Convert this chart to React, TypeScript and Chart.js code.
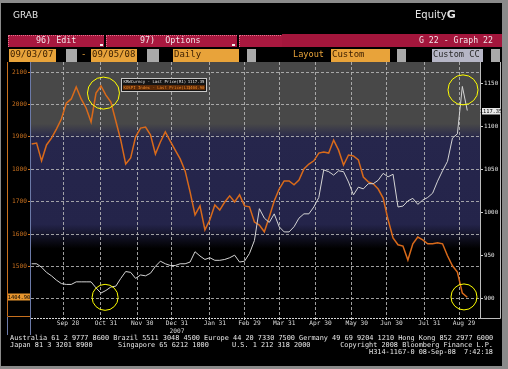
import React, { useEffect, useRef } from "react";
import { Chart, registerables } from "chart.js";

Chart.register(...registerables);

// ---------- data ----------
// one sample every 3 trading days, 03-Sep-2007 (day 0) .. 05-Sep-2008 (day 264)
const tradingDayStep = 3;
const xMinDay = -0.4;
const xMaxDay = 271.7;

// KOSPI Index - Last Price (left axis, orange)
const kospiValues = [
  1878, 1881, 1826, 1875, 1896, 1924, 1955, 2004, 2017, 2054,
  2017, 1989, 1946, 2035, 2057, 2029, 2007, 1949, 1890, 1816,
  1835, 1900, 1927, 1930, 1906, 1847, 1884, 1915, 1887, 1859,
  1832, 1795, 1730, 1659, 1687, 1613, 1644, 1690, 1674, 1699,
  1718, 1699, 1721, 1687, 1684, 1637, 1628, 1607, 1653, 1702,
  1739, 1764, 1764, 1752, 1767, 1801, 1816, 1826, 1850, 1853,
  1850, 1890, 1859, 1813, 1844, 1841, 1829, 1776, 1761, 1755,
  1739, 1711, 1644, 1588, 1567, 1563, 1520, 1570, 1591, 1582,
  1570, 1570, 1573, 1570, 1533, 1502, 1483, 1418, 1405,
];

// KRW Curncy - Last Price (right axis, white)
const krwValues = [
  940, 940, 936, 930, 926, 921, 917, 916, 916, 919,
  919, 919, 919, 912, 906, 909, 913, 914, 923, 931,
  930, 923, 927, 926, 929, 937, 943, 940, 938, 938,
  940, 940, 942, 954, 949, 945, 947, 944, 944, 945,
  947, 950, 942, 943, 952, 967, 1004, 993, 988, 998,
  983, 977, 977, 983, 993, 998, 998, 1006, 1017, 1049,
  1047, 1043, 1048, 1047, 1035, 1020, 1029, 1027, 1033, 1033,
  1037, 1045, 1041, 1044, 1006, 1007, 1013, 1016, 1009, 1014,
  1017, 1022, 1036, 1048, 1059, 1086, 1091, 1146, 1118,
];

// month-end ticks (trading-day index) and their labels
const monthTickDays = [19, 42, 64, 85, 108, 129, 150, 172, 194, 215, 238, 259];
const monthTickLabels: (string | string[])[] = [
  "Sep 28", "Oct 31", "Nov 30", ["Dec 31", "2007"], "Jan 31", "Feb 29",
  "Mar 31", "Apr 30", "May 30", "Jun 30", "Jul 31", "Aug 29",
];

const leftTicks = [1400, 1500, 1600, 1700, 1800, 1900, 2000, 2100];
const rightTicks = [900, 950, 1000, 1050, 1100, 1150];
const leftMin = 1341;
const leftMax = 2131;
const rightMin = 877;
const rightMax = 1174.4;

const krwLastText = "1117.35";
const kospiLastText = "1404.90";
const krwLegend = "KRWCurncy - Last Price(R1)";
const kospiLegend = "KOSPI Index - Last Price(L1)";

// highlighted spots (trading-day index, axis value)
const circleMarks = [
  { axis: "yL", day: 43.5, value: 2035, r: 16 },
  { axis: "yR", day: 44.5, value: 901, r: 13 },
  { axis: "yR", day: 261.4, value: 1142, r: 15 },
  { axis: "yL", day: 262, value: 1406, r: 13 },
];

// background bands, by left-axis value
const bandStops = [
  { v: 2131, c: "#484848" },
  { v: 1940, c: "#484848" },
  { v: 1895, c: "#26264c" },
  { v: 1630, c: "#24244a" },
  { v: 1555, c: "#000000" },
  { v: 1341, c: "#000000" },
];

const MONO = "'DejaVu Sans Mono', monospace";
const ORANGE = "#d96a1a";
const AXIS_ORANGE = "#c8701e";
const GRID = "rgba(185,185,185,0.85)";

const bandsPlugin = {
  id: "bands",
  beforeDraw(chart: any) {
    const { ctx, chartArea: a, scales } = chart;
    const yL = scales.yL;
    ctx.save();
    const g = ctx.createLinearGradient(0, a.top, 0, a.bottom);
    bandStops.forEach((s) => {
      let p = (yL.getPixelForValue(s.v) - a.top) / (a.bottom - a.top);
      p = Math.min(1, Math.max(0, p));
      g.addColorStop(p, s.c);
    });
    ctx.fillStyle = g;
    ctx.fillRect(a.left, a.top, a.right - a.left, a.bottom - a.top);
    ctx.restore();
  },
};

const overlayPlugin = {
  id: "overlay",
  afterDraw(chart: any) {
    const { ctx, chartArea: a, scales } = chart;
    const yL = scales.yL;
    const yR = scales.yR;
    const x = scales.x;
    ctx.save();
    ctx.lineWidth = 1;

    // x axis line (dotted)
    ctx.strokeStyle = "#d6d6d6";
    ctx.setLineDash([2, 1]);
    ctx.beginPath();
    ctx.moveTo(a.left, a.bottom + 0.5);
    ctx.lineTo(a.right, a.bottom + 0.5);
    ctx.stroke();
    ctx.setLineDash([]);

    // right axis line and right frame
    ctx.strokeStyle = "#bdbdbd";
    ctx.beginPath();
    ctx.moveTo(a.right + 0.5, a.top);
    ctx.lineTo(a.right + 0.5, a.bottom + 1);
    ctx.moveTo(a.right + 20.5, a.top);
    ctx.lineTo(a.right + 20.5, a.bottom + 0.5);
    ctx.lineTo(a.right, a.bottom + 0.5);
    ctx.stroke();

    // left blue-grey lines
    ctx.strokeStyle = "#6c7aa8";
    ctx.beginPath();
    ctx.moveTo(a.left - 0.5, a.top);
    ctx.lineTo(a.left - 0.5, a.bottom + 17);
    ctx.moveTo(7.5, a.bottom - 1);
    ctx.lineTo(7.5, a.bottom + 17);
    ctx.stroke();

    // orange bracket of the left axis
    ctx.strokeStyle = AXIS_ORANGE;
    ctx.beginPath();
    ctx.moveTo(7.5, a.top);
    ctx.lineTo(7.5, a.bottom - 1.5);
    ctx.lineTo(a.left - 1, a.bottom - 1.5);
    ctx.stroke();

    // last-value boxes
    ctx.textBaseline = "middle";
    ctx.textAlign = "center";
    ctx.font = `5.4px ${MONO}`;
    const yk = yL.getPixelForValue(parseFloat(kospiLastText));
    ctx.fillStyle = "#e8962e";
    ctx.fillRect(8, Math.round(yk) - 3.5, 22, 7);
    ctx.fillStyle = "#000";
    ctx.fillText(kospiLastText, 19, yk);

    const yw = yR.getPixelForValue(parseFloat(krwLastText));
    ctx.fillStyle = "#e8e8e8";
    ctx.fillRect(a.right + 2, Math.round(yw) - 3, 18, 6.5);
    ctx.fillStyle = "#000";
    ctx.fillText(krwLastText, a.right + 11, yw + 0.3);

    // legend box
    const lx = a.left + 90.5;
    const ly = a.top + 16.5;
    ctx.fillStyle = "#151515";
    ctx.fillRect(lx, ly, 85, 13);
    ctx.strokeStyle = "#c8c8c8";
    ctx.strokeRect(lx, ly, 85, 13);
    ctx.font = `4px ${MONO}`;
    ctx.textAlign = "left";
    ctx.fillStyle = "#e6e6e6";
    ctx.fillText(krwLegend, lx + 2, ly + 3.8);
    ctx.textAlign = "right";
    ctx.fillText(krwLastText, lx + 83, ly + 3.8);
    ctx.fillStyle = "#5a2a08";
    ctx.fillRect(lx + 1.5, ly + 6.5, 82, 5);
    ctx.fillStyle = "#f08a2a";
    ctx.textAlign = "left";
    ctx.fillText(kospiLegend, lx + 2, ly + 9.2);
    ctx.textAlign = "right";
    ctx.fillText(kospiLastText, lx + 83, ly + 9.2);

    // yellow circles
    ctx.strokeStyle = "#ffff00";
    ctx.lineWidth = 1;
    circleMarks.forEach((m) => {
      const cx = x.getPixelForValue(m.day);
      const cy = scales[m.axis].getPixelForValue(m.value);
      ctx.beginPath();
      ctx.arc(cx, cy, m.r, 0, Math.PI * 2);
      ctx.stroke();
    });

    ctx.restore();
  },
};

const box = (
  left: number,
  top: number,
  width: number,
  height: number,
  bg: string,
  extra: React.CSSProperties = {}
): React.CSSProperties => ({
  position: "absolute",
  left,
  top,
  width,
  height,
  background: bg,
  boxSizing: "border-box",
  ...extra,
});

const txt = (
  left: number,
  top: number,
  size: number,
  color: string,
  extra: React.CSSProperties = {}
): React.CSSProperties => ({
  position: "absolute",
  left,
  top,
  fontFamily: MONO,
  fontSize: size,
  lineHeight: `${Math.round(size + 2)}px`,
  color,
  whiteSpace: "pre",
  ...extra,
});

export default function App() {
  const ref = useRef<HTMLCanvasElement | null>(null);

  useEffect(() => {
    document.body.style.margin = "0";
    const canvas = ref.current;
    if (!canvas) return;
    const tickFont = { family: MONO, size: 6.2, lineHeight: 1.25 };
    const chart = new Chart(canvas, {
      type: "line",
      data: {
        datasets: [
          {
            label: "KRW Curncy",
            data: krwValues.map((v, i) => ({ x: i * tradingDayStep, y: v })),
            yAxisID: "yR",
            borderColor: "#d4d4d4",
            borderWidth: 1,
            pointRadius: 0,
            tension: 0,
          },
          {
            label: "KOSPI Index",
            data: kospiValues.map((v, i) => ({ x: i * tradingDayStep, y: v })),
            yAxisID: "yL",
            borderColor: ORANGE,
            borderWidth: 1.5,
            pointRadius: 0,
            tension: 0,
          },
        ],
      },
      options: {
        animation: false,
        responsive: false,
        devicePixelRatio: 1,
        events: [],
        layout: { padding: { top: 62, left: 0, right: 0, bottom: 0 } },
        plugins: { legend: { display: false }, tooltip: { enabled: false } },
        scales: {
          x: {
            type: "linear",
            min: xMinDay,
            max: xMaxDay,
            afterBuildTicks: (s: any) => {
              s.ticks = monthTickDays.map((v) => ({ value: v }));
            },
            afterFit: (s: any) => {
              s.height = 51;
            },
            ticks: {
              autoSkip: false,
              maxRotation: 0,
              padding: 0,
              labelOffset: 5,
              color: "#dcdcdc",
              font: tickFont,
              callback: (v: any) => {
                const k = monthTickDays.indexOf(Number(v));
                return k >= 0 ? monthTickLabels[k] : "";
              },
            },
            grid: { color: GRID, tickLength: 2, tickColor: "#cfcfcf" },
            border: { display: false, dash: [3, 2] },
          },
          yL: {
            position: "left",
            min: leftMin,
            max: leftMax,
            afterBuildTicks: (s: any) => {
              s.ticks = leftTicks.map((v) => ({ value: v }));
            },
            afterFit: (s: any) => {
              s.width = 31;
            },
            ticks: {
              padding: 1,
              color: AXIS_ORANGE,
              font: tickFont,
              callback: (v: any) => (Number(v) === 1400 ? "" : String(v)),
            },
            grid: { color: GRID, tickLength: 3, tickColor: AXIS_ORANGE },
            border: { display: false, dash: [3, 2] },
          },
          yR: {
            position: "right",
            min: rightMin,
            max: rightMax,
            afterBuildTicks: (s: any) => {
              s.ticks = rightTicks.map((v) => ({ value: v }));
            },
            afterFit: (s: any) => {
              s.width = 28;
            },
            ticks: {
              padding: 1,
              color: "#e2e2e2",
              font: { family: MONO, size: 5.9 },
              callback: (v: any) => String(v),
            },
            grid: { drawOnChartArea: false, tickLength: 3, color: "#cfcfcf" },
            border: { display: false },
          },
        },
      } as any,
      plugins: [bandsPlugin, overlayPlugin],
    });
    return () => chart.destroy();
  }, []);

  const ob = "#e8a33a";
  const gb = "#a9a9a9";
  const red = "#a8183f";
  const dark = "#3a1e00";

  return (
    <div style={{ position: "relative", width: 508, height: 369, background: "#8a8a8a", overflow: "hidden" }}>
      <div style={box(1, 3, 501, 363, "#000")} />
      <canvas ref={ref} width={508} height={369} style={{ position: "absolute", left: 0, top: 0 }} />

      {/* title row */}
      <div style={{ ...txt(13, 10, 9, "#e6e6e6"), fontFamily: "'DejaVu Sans', sans-serif" }}>GRAB</div>
      <div style={{ ...txt(415, 9, 10, "#e6e6e6"), fontFamily: "'DejaVu Sans', sans-serif" }}>
        Equity<span style={{ fontWeight: "bold", fontSize: 11 }}>G</span>
      </div>

      {/* red menu bar */}
      <div style={box(8, 35, 96, 12, red, { borderTop: "1px dotted #e8708c", borderLeft: "1px dotted #e8708c" })} />
      <div style={box(106, 35, 131, 12, red, { borderTop: "1px dotted #e8708c", borderLeft: "1px dotted #e8708c" })} />
      <div style={box(239, 35, 44, 12, red, { borderTop: "1px dotted #e8708c", borderLeft: "1px dotted #e8708c" })} />
      <div style={box(282, 34, 220, 13, "#a3163c")} />
      <div style={txt(36, 35, 8.4, "#f2e6ea")}>96) Edit</div>
      <div style={txt(140, 35, 8.4, "#f2e6ea")}>97)  Options</div>
      <div style={txt(419, 35, 8.2, "#f2e6ea")}>G 22 - Graph 22</div>
      <div style={box(100, 44, 3, 2, "#f0f0f0")} />
      <div style={box(232, 44, 3, 2, "#f0f0f0")} />

      {/* second row */}
      <div style={box(9, 49, 47, 13, ob)} />
      <div style={txt(10, 49, 9, dark)}>09/03/07</div>
      <div style={box(66, 49, 11, 13, gb)} />
      <div style={txt(81, 49, 9, ob)}>-</div>
      <div style={box(91, 49, 46, 13, ob)} />
      <div style={txt(92, 49, 9, dark)}>09/05/08</div>
      <div style={box(147, 49, 12, 13, gb)} />
      <div style={box(173, 49, 66, 13, ob)} />
      <div style={txt(174, 49, 9, dark)}>Daily</div>
      <div style={box(247, 49, 9, 13, gb)} />
      <div style={txt(293, 49, 8.6, ob)}>Layout</div>
      <div style={box(331, 49, 59, 13, ob)} />
      <div style={txt(332, 49, 9, dark)}>Custom</div>
      <div style={box(397, 49, 9, 13, gb)} />
      <div style={box(432, 49, 51, 13, "#b6b6c6")} />
      <div style={txt(433, 49, 8.6, "#2a2a2a")}>Custom CC</div>
      <div style={box(491, 49, 9, 13, gb)} />

      {/* footer */}
      <div style={txt(10, 335, 6.86, "#e8e8e8", { lineHeight: "7px" })}>
        Australia 61 2 9777 8600 Brazil 5511 3048 4500 Europe 44 20 7330 7500 Germany 49 69 9204 1210 Hong Kong 852 2977 6000
      </div>
      <div style={txt(10, 342, 6.86, "#e8e8e8", { lineHeight: "7px" })}>Japan 81 3 3201 8900</div>
      <div style={txt(118, 342, 6.86, "#e8e8e8", { lineHeight: "7px" })}>Singapore 65 6212 1000</div>
      <div style={txt(232, 342, 6.86, "#e8e8e8", { lineHeight: "7px" })}>U.S. 1 212 318 2000</div>
      <div style={txt(0, 342, 6.86, "#e8e8e8", { lineHeight: "7px", left: "auto", right: 15 })}>
        Copyright 2008 Bloomberg Finance L.P.
      </div>
      <div style={txt(0, 348.5, 6.86, "#e8e8e8", { lineHeight: "7px", left: "auto", right: 15 })}>
        H314-1167-0 08-Sep-08  7:42:18
      </div>
    </div>
  );
}
